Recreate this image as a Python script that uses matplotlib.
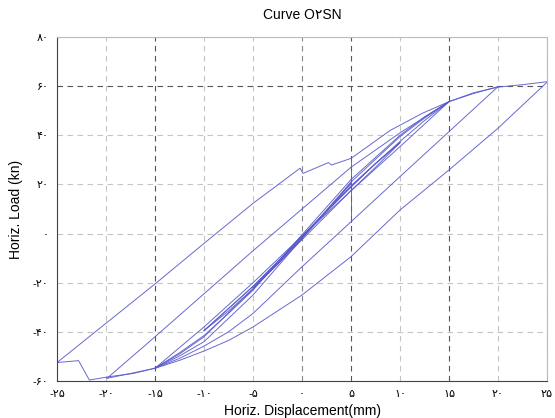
import matplotlib
matplotlib.use('Agg')
import matplotlib.pyplot as plt

plt.rcParams['font.family'] = ['Liberation Sans', 'DejaVu Sans']

# --- data (displacement mm, load kn) ---
# reload after the -25 mm peak, with the glitch near 0 mm
r25_x = [-25.0, -20.0, -15.0, -10.0, -5.0, -0.2, 0.1, 2.7, 3.0, 5.0, 9.0, 12.3, 15.0, 17.5, 20.0, 22.5, 25.0]
r25_y = [-52.5, -36.5, -20.5, -4.0, 12.3, 26.6, 24.5, 28.9, 27.9, 30.6, 42.0, 49.0, 53.7, 57.3, 59.6, 60.6, 61.8]

# drop at 5 mm
drop_x = [5.0, 5.0]
drop_y = [30.6, 4.8]

# unloading from +25 down to the bottom and the jump at -22 mm
u25_x = [25.0, 20.0, 15.0, 10.0, 5.0, 0.0, -5.0, -7.5, -10.0, -12.5, -15.0, -17.2, -19.6, -21.7, -22.8, -25.0]
u25_y = [61.6, 42.9, 25.9, 9.6, -9.4, -25.0, -38.0, -43.5, -47.8, -51.6, -54.8, -56.9, -58.2, -59.6, -51.7, -52.5]

# reload after the -20 mm peak
r20_x = [-19.9, -15.0, -10.0, -5.0, 0.0, 5.0, 10.0, 15.0, 17.5, 20.0]
r20_y = [-58.9, -42.0, -24.5, -7.0, 10.0, 27.0, 41.0, 53.7, 57.0, 59.8]

# unloading from +20
u20_x = [20.0, 15.0, 10.0, 5.0, 0.0, -5.0, -7.5, -10.0, -12.5, -15.0, -17.2, -19.9]
u20_y = [59.8, 41.5, 23.2, 4.8, -13.5, -32.5, -40.0, -45.8, -50.8, -54.8, -56.7, -58.9]

# +-15 mm cycles (dense band)
up15a_x = [-15.0, -12.5, -10.0, -7.5, -5.0, 0.0, 5.0, 10.0, 12.5, 15.0]
up15a_y = [-54.8, -49.8, -44.0, -34.5, -25.0, -2.0, 21.0, 39.5, 47.0, 53.7]
up15b_x = [-15.0, -12.5, -10.0, -7.5, -5.0, 0.0, 5.0, 10.0, 12.5, 15.0]
up15b_y = [-54.8, -48.5, -41.5, -32.5, -23.0, -0.5, 22.0, 40.0, 47.5, 53.7]
dn15a_x = [15.0, 10.0, 5.0, 0.0, -5.0, -10.0, -15.0]
dn15a_y = [53.7, 35.4, 17.4, -1.0, -20.0, -38.0, -54.8]
dn15b_x = [15.0, 12.5, 10.0, 5.0, 0.0, -5.0, -10.0, -12.5, -15.0]
dn15b_y = [53.7, 46.0, 37.5, 19.5, -1.5, -22.5, -42.0, -49.0, -54.8]

# +-10 mm cycles
up10_x = [-10.0, -7.5, -5.0, -2.5, 0.0, 2.5, 5.0, 7.5, 10.0]
up10_y = [-39.5, -30.5, -21.5, -11.5, -1.0, 9.0, 19.0, 28.5, 37.0]
dn10_x = [10.0, 7.5, 5.0, 2.5, 0.0, -2.5, -5.0, -7.5, -10.0]
dn10_y = [37.0, 27.0, 17.5, 7.5, -2.5, -12.5, -22.5, -31.5, -39.5]

# +-5 mm cycles
up5_x = [-5.0, -2.5, 0.0, 2.5, 5.0]
up5_y = [-22.0, -12.0, -1.5, 9.5, 20.5]
dn5_x = [5.0, 2.5, 0.0, -2.5, -5.0]
dn5_y = [20.5, 9.0, -2.0, -12.5, -22.0]

branches = [
    (r25_x, r25_y), (drop_x, drop_y), (u25_x, u25_y),
    (r20_x, r20_y), (u20_x, u20_y),
    (up15a_x, up15a_y), (up15b_x, up15b_y), (dn15a_x, dn15a_y), (dn15b_x, dn15b_y),
    (up10_x, up10_y), (dn10_x, dn10_y), (up10_x, up10_y),
    (up5_x, up5_y), (dn5_x, dn5_y),
]

xticks = [-25, -20, -15, -10, -5, 0, 5, 10, 15, 20, 25]
xtick_labels = ['-۲۵', '-۲۰', '-۱۵', '-۱۰', '-۵', '۰', '۵', '۱۰', '۱۵', '۲۰', '۲۵']
yticks = [-60, -40, -20, 0, 20, 40, 60, 80]
ytick_labels = ['-۶۰', '-۴۰', '-۲۰', '۰', '۲۰', '۴۰', '۶۰', '۸۰']

# scan artefact: some grid lines came out darker than others
dark_x = [-15, 5, 15]
mid_x = [0]
dark_y = [60]

fig = plt.figure(figsize=(5.55, 4.18), dpi=100)
ax = fig.add_axes([0.1027, 0.0885, 0.883, 0.823])

for bx, by in branches:
    ax.plot(bx, by, color='#5858cc', linewidth=0.7, alpha=0.9)

ax.set_xlim(-25, 25)
ax.set_ylim(-60, 80)
ax.set_xticks(xticks)
ax.set_xticklabels(xtick_labels, fontsize=8)
ax.set_yticks(yticks)
ax.set_yticklabels(ytick_labels, fontsize=8)
ax.tick_params(length=0, pad=6)

ax.grid(True, linestyle=(0, (5, 4)), linewidth=0.8, color='#c4c4c4')
for val, gl in zip(xticks, ax.get_xgridlines()):
    if val in dark_x:
        gl.set_color('#555555')
    elif val in mid_x:
        gl.set_color('#888888')
for val, gl in zip(yticks, ax.get_ygridlines()):
    if val in dark_y:
        gl.set_color('#555555')

for side in ['left', 'bottom']:
    ax.spines[side].set_color('#444444')
for side in ['top', 'right']:
    ax.spines[side].set_color('#bbbbbb')

ax.set_title('Curve O۲SN', fontsize=10, pad=13)
ax.set_xlabel('Horiz. Displacement(mm)', fontsize=10, labelpad=3)
ax.set_ylabel('Horiz. Load (kn)', fontsize=10, labelpad=7)

fig.savefig('out.png', dpi=100)
